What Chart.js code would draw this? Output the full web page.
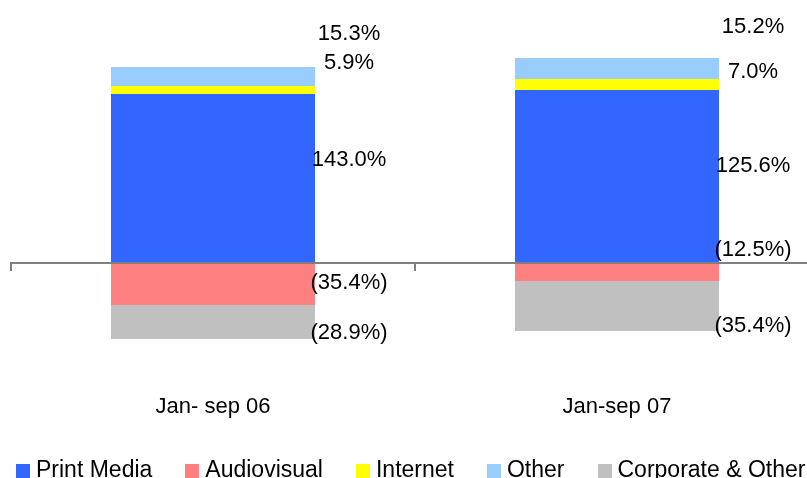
<!DOCTYPE html>
<html>
<head>
<meta charset="utf-8">
<script src="https://cdn.jsdelivr.net/npm/chart.js@4/dist/chart.umd.min.js"></script>
<style>
  html, body { margin: 0; padding: 0; background: #fff; overflow: hidden; }
  #wrap { position: relative; width: 807px; height: 478px; overflow: hidden; }
  #newChart { position: absolute; left: 0; top: 0; }
  #legend {
    position: absolute; left: 16px; top: 456px;
    display: flex; gap: 33px;
    font: 23px "Liberation Sans", Arial, sans-serif; color: #000;
    line-height: 26px; white-space: nowrap;
  }
  .swatch { display: inline-block; width: 14px; height: 14px; margin-right: 6px; vertical-align: -1px; }
</style>
</head>
<body>
<div id="wrap">
  <canvas id="newChart" width="830" height="478"></canvas>
  <div id="legend"></div>
</div>
<script>
// categories + segment values (bar heights) and the % labels shown next to them
const categories = ["Jan- sep 06", "Jan-sep 07"];

const printMedia = [169, 173];
const audiovisual = [-42, -18];
const internet = [8, 11];
const other = [19, 21];
const corporate = [-34, -50];

const printLabels = ["143.0%", "125.6%"];
const audioLabels = ["(35.4%)", "(12.5%)"];
const internetLabels = ["5.9%", "7.0%"];
const otherLabels = ["15.3%", "15.2%"];
const corporateLabels = ["(28.9%)", "(35.4%)"];

Chart.defaults.font.family = '"Liberation Sans", Arial, sans-serif';
Chart.defaults.color = "#000";

let ctx = document.getElementById("newChart");

// labels sit to the right of each bar, nudged vertically like the original
const labelShift = [[-19, -11], [-1, -22], [-27, -13], [-43, -42], [11, 20]];

const pctLabelsPlugin = {
    id: "pctLabels",
    afterDatasetsDraw(chart) {
        const c = chart.ctx;
        c.save();
        c.font = '22px "Liberation Sans", Arial, sans-serif';
        c.fillStyle = "#000";
        c.textAlign = "center";
        c.textBaseline = "middle";
        chart.data.datasets.forEach((ds, i) => {
            chart.getDatasetMeta(i).data.forEach((bar, j) => {
                const x = bar.x + bar.width / 2 + 34;
                const y = (bar.y + bar.base) / 2 + labelShift[i][j];
                c.fillText(ds.pctLabels[j], x, y);
            });
        });
        c.restore();
    },
};

function makeSet(label, data, color, pct) {
    return {
        label: label,
        data: data,
        pctLabels: pct,
        backgroundColor: color,
        borderWidth: 0,
        barPercentage: 0.505,
        categoryPercentage: 1.0,
    };
}

const displayChart = new Chart(ctx, {
    type: "bar",
    data: {
        labels: categories,
        datasets: [
            makeSet("Print Media", printMedia, "#3366FF", printLabels),
            makeSet("Audiovisual", audiovisual, "#FF8080", audioLabels),
            makeSet("Internet", internet, "#FFFF00", internetLabels),
            makeSet("Other", other, "#99CCFF", otherLabels),
            makeSet("Corporate & Other", corporate, "#C0C0C0", corporateLabels),
        ],
    },
    options: {
        responsive: false,
        animation: false,
        devicePixelRatio: 1,
        layout: { padding: { left: 11, right: 11, top: 0, bottom: 0 } },
        plugins: {
            legend: { display: false },
            tooltip: { enabled: false },
        },
        scales: {
            x: {
                stacked: true,
                grid: { display: false, drawTicks: false },
                border: { display: false },
                ticks: { font: { size: 22 }, padding: 1, maxRotation: 0, autoSkip: false },
                afterFit: (scale) => { scale.height = 85; },
            },
            x2: {
                type: "category",
                position: { y: 0 },
                offset: true,
                grid: {
                    offset: true,
                    drawOnChartArea: false,
                    drawTicks: true,
                    tickLength: 7,
                    color: "#808080",
                    lineWidth: 2,
                },
                border: { color: "#808080", width: 2, z: 1 },
                ticks: { display: false },
            },
            y: {
                stacked: true,
                display: false,
                min: -130,
                max: 263,
            },
        },
    },
    plugins: [pctLabelsPlugin],
});

// html legend built from the datasets
const legendEl = document.getElementById("legend");
displayChart.data.datasets.forEach((ds) => {
    const item = document.createElement("span");
    item.innerHTML = `<span class="swatch" style="background:${ds.backgroundColor}"></span>${ds.label}`;
    legendEl.appendChild(item);
});
</script>
</body>
</html>
